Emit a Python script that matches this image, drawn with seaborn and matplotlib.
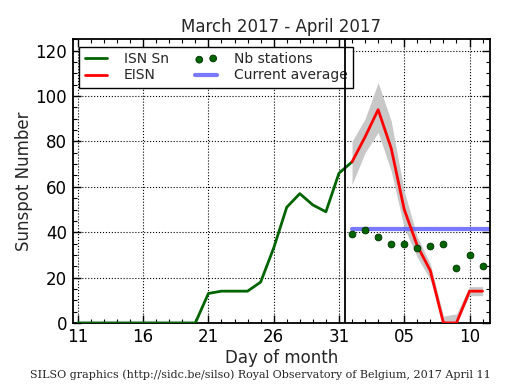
import matplotlib
matplotlib.use("Agg")
import matplotlib.pyplot as plt
from matplotlib.ticker import MultipleLocator, FixedLocator
import seaborn as sns

# daily values, x = day counted from 1 March (32 = April 1)
isn_days = list(range(11, 33))
isn = [0, 0, 0, 0, 0, 0, 0, 0, 0, 0, 13, 14, 14, 14, 18, 33, 51, 57, 52, 49, 66, 71]

eisn_days = list(range(32, 43))
eisn = [71, 82, 94, 77, 50, 34, 23, 0, 0, 14, 14]
eisn_hi = [80, 90, 106, 89, 58, 38, 26, 3, 4, 16, 16]
eisn_lo = [61, 75, 84, 67, 42, 29, 19, 0, 0, 12, 12]

nb_stations = [39, 41, 38, 35, 35, 33, 34, 35, 24, 30, 25]

avg_days = [32, 43]
current_avg = [41.6, 41.6]

tick_days = [11, 16, 21, 26, 31, 36, 41]
tick_labels = ["11", "16", "21", "26", "31", "05", "10"]

sns.set_style("ticks")
plt.rcParams["font.family"] = ["DejaVu Sans"]

fig = plt.figure(figsize=(5.15, 3.9), dpi=100)
ax = fig.add_axes([0.141, 0.172, 0.81, 0.727])

ax.fill_between(eisn_days, eisn_lo, eisn_hi, color="#c8c8c8", lw=0, zorder=1)
sns.lineplot(x=isn_days, y=isn, ax=ax, color="#006400", lw=2, label="ISN Sn", zorder=3)
sns.lineplot(x=eisn_days, y=eisn, ax=ax, color="red", lw=2, label="EISN", zorder=4)
sns.scatterplot(x=eisn_days, y=nb_stations, ax=ax, color="#006400", s=24,
                edgecolor="#003000", linewidth=0.6, label="Nb stations", zorder=5)
sns.lineplot(x=avg_days, y=current_avg, ax=ax, color="#6a6aff", lw=3, alpha=0.9,
             label="Current average", zorder=2)
ax.axvline(31.5, color="black", lw=1.3, zorder=6)

ax.set_xlim(10.6, 42.55)
ax.set_ylim(0, 125)
ax.xaxis.set_major_locator(FixedLocator(tick_days))
ax.set_xticklabels(tick_labels)
ax.xaxis.set_minor_locator(MultipleLocator(1))
ax.yaxis.set_major_locator(MultipleLocator(20))
ax.yaxis.set_minor_locator(MultipleLocator(5))
ax.tick_params(which="both", direction="in", top=True, right=True, colors="black")
ax.tick_params(which="major", length=6, width=1, labelsize=12, pad=4)
ax.tick_params(which="minor", length=3, width=0.8)
ax.grid(True, which="major", color="black", ls=":", lw=0.8)
for sp in ax.spines.values():
    sp.set_color("black")
    sp.set_linewidth(1.3)

ax.set_title("March 2017 - April 2017", fontsize=12, pad=5)
ax.set_xlabel("Day of month", fontsize=12, labelpad=2)
ax.set_ylabel("Sunspot Number", fontsize=12, labelpad=2)

h, l = ax.get_legend_handles_labels()
order = [l.index(n) for n in ["ISN Sn", "EISN", "Nb stations", "Current average"]]
leg = ax.legend([h[i] for i in order], [l[i] for i in order], ncol=2, loc="upper left",
                bbox_to_anchor=(0.016, 0.974), borderaxespad=0, fontsize=10, frameon=True,
                fancybox=False, edgecolor="black", framealpha=1, scatterpoints=2,
                borderpad=0.4, handlelength=1.6, columnspacing=1.9, handletextpad=1.2,
                labelspacing=0.15)
leg.get_frame().set_linewidth(1)

fig.text(0.505, 0.038, "SILSO graphics (http://sidc.be/silso) Royal Observatory of Belgium, 2017 April 11",
         ha="center", va="center", fontsize=8, family="DejaVu Serif")

fig.savefig("out.png", dpi=100)
